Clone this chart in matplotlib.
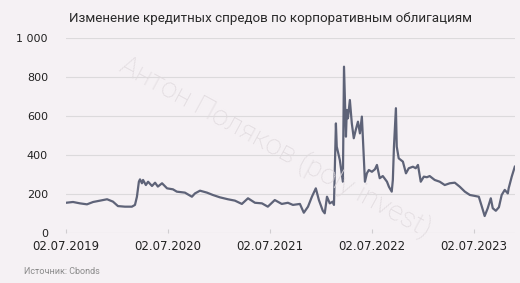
import matplotlib
matplotlib.use("Agg")
import matplotlib.pyplot as plt
import matplotlib.ticker as ticker
import pandas as pd

# Spread readings (bp) by date
dates = [
    "2019-07-02", "2019-07-27", "2019-08-21", "2019-09-15", "2019-10-07",
    "2019-11-01", "2019-11-26", "2019-12-17", "2020-01-04", "2020-01-29",
    "2020-02-23", "2020-03-05", "2020-03-12", "2020-03-19", "2020-03-23",
    "2020-03-30", "2020-04-03", "2020-04-13", "2020-04-21", "2020-05-05",
    "2020-05-16", "2020-05-26", "2020-06-10", "2020-06-28", "2020-07-19",
    "2020-08-02", "2020-08-31", "2020-09-25", "2020-10-06", "2020-10-24",
    "2020-11-18", "2020-12-09", "2021-01-03", "2021-02-01", "2021-02-26",
    "2021-03-23", "2021-04-14", "2021-05-09", "2021-06-03", "2021-06-24",
    "2021-07-19", "2021-08-13", "2021-09-04", "2021-09-22", "2021-10-17",
    "2021-10-31", "2021-11-15", "2021-11-29", "2021-12-13", "2021-12-24",
    "2022-01-07", "2022-01-14", "2022-01-22", "2022-02-01", "2022-02-12",
    "2022-02-16", "2022-02-23", "2022-02-26", "2022-03-09", "2022-03-20",
    "2022-03-24", "2022-03-31", "2022-04-03", "2022-04-07", "2022-04-14",
    "2022-04-21", "2022-04-28", "2022-05-05", "2022-05-13", "2022-05-20",
    "2022-05-27", "2022-05-31", "2022-06-07", "2022-06-14", "2022-06-21",
    "2022-07-02", "2022-07-13", "2022-07-20", "2022-07-30", "2022-08-10",
    "2022-08-25", "2022-09-01", "2022-09-11", "2022-09-15", "2022-09-19",
    "2022-09-26", "2022-09-29", "2022-10-06", "2022-10-21", "2022-11-01",
    "2022-11-11", "2022-11-26", "2022-12-06", "2022-12-14", "2022-12-24",
    "2023-01-04", "2023-01-15", "2023-01-25", "2023-02-12", "2023-03-02",
    "2023-03-20", "2023-04-07", "2023-04-25", "2023-05-13", "2023-05-31",
    "2023-06-18", "2023-07-06", "2023-07-20", "2023-07-31", "2023-08-10",
    "2023-08-21", "2023-09-01", "2023-09-08", "2023-09-19", "2023-09-30",
    "2023-10-10", "2023-10-21", "2023-11-01", "2023-11-04", "2023-11-15",
    "2023-11-26",
]
spreads = [
    155, 159, 152, 147, 159,
    166, 173, 161, 138, 135,
    135, 144, 186, 263, 275,
    255, 272, 246, 263, 241,
    258, 238, 255, 229, 224,
    212, 207, 186, 203, 217,
    207, 195, 183, 173, 166,
    149, 178, 155, 152, 135,
    169, 149, 155, 144, 149,
    104, 135, 186, 229, 169,
    114, 101, 186, 152, 161,
    144, 562, 443, 374, 263,
    853, 494, 631, 588, 682,
    562, 486, 528, 571, 511,
    597, 477, 263, 306, 323,
    314, 327, 349, 281, 292,
    263, 237, 212, 272, 443,
    640, 443, 383, 366, 306,
    332, 340, 332, 349, 263,
    289, 286, 292, 272, 263,
    246, 255, 258, 237, 212,
    195, 190, 186, 135, 87,
    127, 178, 127, 114, 132,
    195, 221, 203, 229, 289,
    340,
]
tick_dates = ["2019-07-02", "2020-07-02", "2021-07-02", "2022-07-02", "2023-07-02"]
y_ticks = [0, 200, 400, 600, 800, 1000]

TITLE = "Изменение кредитных спредов по корпоративным облигациям"
SOURCE = "Источник: Cbonds"
WATERMARK = "Антон Поляков (poly invest)"

BG = "#f5f1f4"
LINE = "#5e6378"


def main() -> None:
    x = pd.to_datetime(dates)
    xt = pd.to_datetime(tick_dates)

    fig = plt.figure(figsize=(5.2, 2.83), dpi=100, facecolor=BG)
    ax = fig.add_axes([0.127, 0.1767, 0.863, 0.689])
    ax.set_facecolor(BG)

    ax.plot(x, spreads, color=LINE, linewidth=1.6, zorder=3)

    ax.set_ylim(0, 1000)
    ax.set_xlim(pd.Timestamp("2019-07-02"), pd.Timestamp("2023-11-26"))
    ax.set_yticks(y_ticks)
    ax.yaxis.set_major_formatter(
        ticker.FuncFormatter(lambda v, _: f"{int(v):,}".replace(",", " "))
    )
    ax.set_xticks(xt)
    ax.set_xticklabels([d.strftime("%d.%m.%Y") for d in xt])

    ax.grid(axis="y", color="#dcdadc", linewidth=0.8, zorder=0)
    for s in ax.spines.values():
        s.set_visible(False)
    ax.tick_params(axis="y", length=0, pad=13, labelsize=8, labelcolor="#222222")
    ax.tick_params(axis="x", length=3, color="#d0cdd0", direction="in",
                   pad=5, labelsize=8.5, labelcolor="#222222")

    fig.text(0.52, 0.935, TITLE, ha="center", va="center", fontsize=9.6,
             family="Roboto", color="#2a2a2a")
    fig.text(0.046, 0.04, SOURCE, ha="left", va="center", fontsize=6.5,
             family="Roboto", color="#8a8a8a")
    fig.text(0.53, 0.48, WATERMARK, ha="center", va="center", fontsize=20.5,
             family="Roboto", fontweight="light", color="#e0dade",
             rotation=-28.5, zorder=1)

    fig.savefig("out.png", dpi=100, facecolor=BG)
    plt.close(fig)


if __name__ == "__main__":
    main()
